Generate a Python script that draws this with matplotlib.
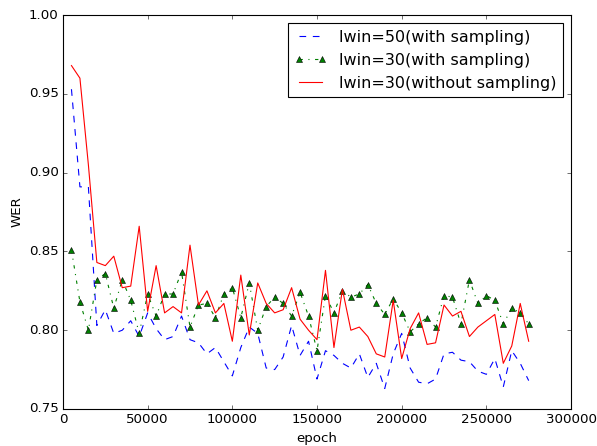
import matplotlib
matplotlib.use("Agg")
import matplotlib.pyplot as plt
import numpy as np

plt.style.use("classic")

epochs = np.arange(5000, 280000, 5000)

# lwin=50 (with sampling)
wer_lwin50 = [0.953, 0.891, 0.891, 0.803, 0.813, 0.798, 0.800, 0.806, 0.796, 0.811,
              0.801, 0.794, 0.796, 0.809, 0.794, 0.792, 0.785, 0.789, 0.780, 0.771,
              0.789, 0.802, 0.798, 0.776, 0.775, 0.783, 0.803, 0.784, 0.793, 0.769,
              0.787, 0.784, 0.779, 0.776, 0.785, 0.770, 0.779, 0.763, 0.785, 0.798,
              0.776, 0.767, 0.766, 0.769, 0.785, 0.786, 0.781, 0.780, 0.774, 0.772,
              0.782, 0.764, 0.787, 0.779, 0.768]

# lwin=30 (with sampling)
wer_lwin30 = [0.851, 0.818, 0.800, 0.832, 0.836, 0.814, 0.832, 0.819, 0.798, 0.823,
              0.809, 0.823, 0.823, 0.837, 0.802, 0.816, 0.817, 0.808, 0.823, 0.827,
              0.808, 0.830, 0.800, 0.815, 0.821, 0.817, 0.809, 0.824, 0.809, 0.787,
              0.822, 0.811, 0.825, 0.821, 0.823, 0.829, 0.817, 0.810, 0.820, 0.811,
              0.799, 0.804, 0.808, 0.802, 0.822, 0.821, 0.804, 0.832, 0.817, 0.822,
              0.819, 0.804, 0.814, 0.811, 0.804]

# lwin=30 (without sampling)
wer_lwin30_nosamp = [0.968, 0.960, 0.905, 0.843, 0.841, 0.847, 0.827, 0.828, 0.866, 0.812,
                     0.841, 0.811, 0.815, 0.811, 0.854, 0.816, 0.825, 0.811, 0.817, 0.793,
                     0.835, 0.797, 0.830, 0.817, 0.811, 0.813, 0.827, 0.807, 0.800, 0.794,
                     0.838, 0.789, 0.826, 0.800, 0.802, 0.796, 0.785, 0.783, 0.819, 0.782,
                     0.801, 0.811, 0.791, 0.792, 0.816, 0.809, 0.812, 0.796, 0.802, 0.806,
                     0.810, 0.779, 0.790, 0.817, 0.793]

fig = plt.figure(figsize=(597 / 80.0, 446 / 80.0), dpi=80)
ax = fig.add_axes([0.1055, 0.083, 0.851, 0.883])

ax.plot(epochs, wer_lwin50, "b--", label="lwin=50(with sampling)")
ax.plot(epochs, wer_lwin30, "g^-.", label="lwin=30(with sampling)")
ax.plot(epochs, wer_lwin30_nosamp, "r-", label="lwin=30(without sampling)")

ax.set_xlim(0, 300000)
ax.set_ylim(0.75, 1.00)
ax.set_xlabel("epoch")
ax.set_ylabel("WER")
ax.legend(loc="upper right", numpoints=2)

fig.savefig("out.png", dpi=80)
